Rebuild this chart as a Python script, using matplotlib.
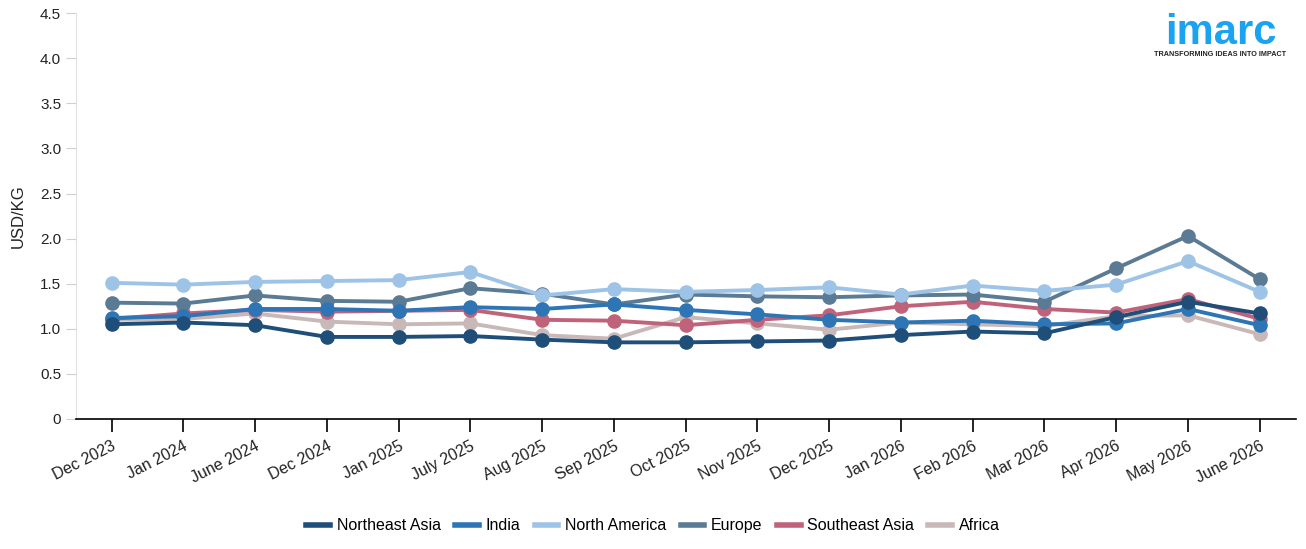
import numpy as np
import matplotlib.pyplot as plt

plt.rcParams['font.family'] = ['Liberation Sans', 'DejaVu Sans']

months = ["Dec 2023", "Jan 2024", "June 2024", "Dec 2024", "Jan 2025", "July 2025",
          "Aug 2025", "Sep 2025", "Oct 2025", "Nov 2025", "Dec 2025", "Jan 2026",
          "Feb 2026", "Mar 2026", "Apr 2026", "May 2026", "June 2026"]

northeast_asia = [1.05, 1.07, 1.04, 0.91, 0.91, 0.92, 0.88, 0.85, 0.85, 0.86, 0.87, 0.93, 0.97, 0.95, 1.13, 1.30, 1.17]
india = [1.12, 1.14, 1.22, 1.22, 1.20, 1.24, 1.22, 1.27, 1.21, 1.16, 1.10, 1.07, 1.09, 1.05, 1.06, 1.22, 1.04]
north_america = [1.51, 1.49, 1.52, 1.53, 1.54, 1.63, 1.37, 1.44, 1.41, 1.43, 1.46, 1.38, 1.48, 1.42, 1.49, 1.75, 1.41]
europe = [1.29, 1.28, 1.37, 1.31, 1.30, 1.45, 1.39, 1.27, 1.38, 1.36, 1.35, 1.37, 1.38, 1.30, 1.67, 2.03, 1.55]
southeast_asia = [1.11, 1.17, 1.21, 1.19, 1.20, 1.21, 1.10, 1.09, 1.04, 1.10, 1.15, 1.25, 1.30, 1.22, 1.18, 1.33, 1.11]
africa = [1.10, 1.11, 1.17, 1.08, 1.05, 1.06, 0.93, 0.89, 1.13, 1.06, 0.99, 1.07, 1.05, 1.03, 1.14, 1.15, 0.94]

series = [
    ("Northeast Asia", northeast_asia, "#1f4e79"),
    ("India", india, "#2e75b6"),
    ("North America", north_america, "#9dc3e6"),
    ("Europe", europe, "#5b7a94"),
    ("Southeast Asia", southeast_asia, "#c0637a"),
    ("Africa", africa, "#c9b8b8"),
]

fig = plt.figure(figsize=(13.06, 5.49), dpi=100)
ax = fig.add_axes([0.058, 0.2368, 0.934, 0.7392])

x = np.arange(len(months))
# draw in reverse so Northeast Asia ends up on top
for z, (name, vals, col) in enumerate(reversed(series)):
    ax.plot(x, vals, color=col, lw=2.8, marker="o", ms=9.5, zorder=3 + z)

ax.set_xlim(-0.5, len(months) - 0.5)
ax.set_ylim(0, 4.5)
ax.set_yticks(np.arange(0, 4.51, 0.5))
ax.set_yticklabels(["0"] + [f"{v:.1f}" for v in np.arange(0.5, 4.51, 0.5)])
ax.set_xticks(x)
ax.set_xticklabels(months, rotation=27, ha="right", rotation_mode="anchor")

ax.spines["top"].set_visible(False)
ax.spines["right"].set_visible(False)
ax.spines["left"].set_color("#e0e0e0")
ax.spines["bottom"].set_color("black")
ax.spines["bottom"].set_linewidth(1.2)
ax.tick_params(axis="y", colors="#d0d0d0", labelcolor="#222222", length=7, labelsize=11)
ax.tick_params(axis="x", colors="black", labelcolor="#222222", length=9, width=1.2, labelsize=11.5, pad=5)
ax.set_ylabel("USD/KG", fontsize=12, color="#222222", labelpad=10)

handles = [plt.Line2D([], [], color=col, lw=4) for _, _, col in series]
fig.legend(handles, [s[0] for s in series], loc="center", bbox_to_anchor=(0.5, 0.042),
           ncol=6, frameon=False, fontsize=11.5, handlelength=1.5, handletextpad=0.4, columnspacing=0.9)

# logo
fig.text(0.9345, 0.94, "imarc", color="#1aa3f0", fontsize=30, fontweight="bold", ha="center", va="center")
fig.text(0.9345, 0.9, "TRANSFORMING IDEAS INTO IMPACT", color="#222222", fontsize=5.2, fontweight="bold",
         ha="center", va="center")

fig.savefig("out.png", dpi=100)
